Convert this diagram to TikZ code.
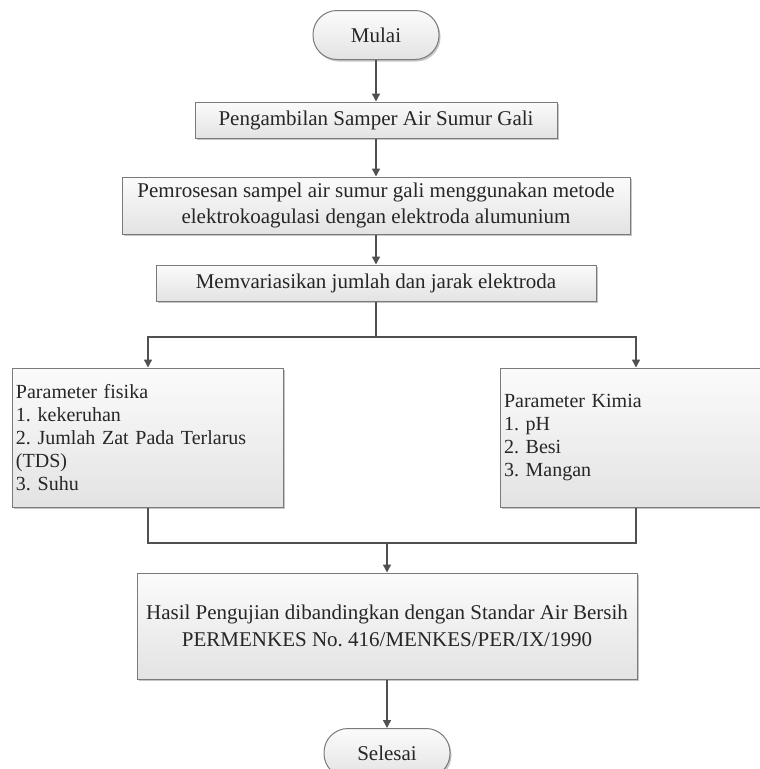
\documentclass[tikz,border=0pt]{standalone}
\usepackage{fontspec}
\setmainfont{Liberation Serif}
\frenchspacing
\usepackage{xcolor}
\usetikzlibrary{shapes.geometric, arrows, arrows.meta, shadows}
\definecolor{linegray}{HTML}{505050}
\definecolor{edgegray}{HTML}{7A7A7A}
\definecolor{textgray}{HTML}{262626}
\tikzstyle{startstop} = [rectangle, rounded corners=24pt, 
minimum width=126pt, 
minimum height=49pt,
text centered, 
draw=edgegray, line width=1pt,
top color=gray!3, bottom color=gray!22,
drop shadow={shadow xshift=1.5pt, shadow yshift=-2pt, fill=gray, opacity=0.45}]
\tikzstyle{process} = [rectangle, 
minimum height=36pt, 
text centered, 
align=center,
draw=edgegray, line width=1pt,
top color=gray!3, bottom color=gray!22,
drop shadow={shadow xshift=1.5pt, shadow yshift=-2pt, fill=gray, opacity=0.45}]
\tikzstyle{param} = [rectangle, 
minimum width=270pt, 
minimum height=139pt, 
text width=264pt, 
align=left,
font=\fontsize{20pt}{22.8pt}\selectfont,
draw=edgegray, line width=1pt,
top color=gray!3, bottom color=gray!22,
drop shadow={shadow xshift=1.5pt, shadow yshift=-2pt, fill=gray, opacity=0.45}]
\tikzstyle{arrow} = [line width=1.4pt, draw=linegray, ->, >={Triangle[length=8pt, width=8pt]}]
\tikzstyle{line} = [line width=1.4pt, draw=linegray]

\begin{document}
\begin{tikzpicture}[node distance=85pt, font=\fontsize{21pt}{26.5pt}\selectfont, text=textgray]
    \useasboundingbox (0,0) rectangle (760pt,-769pt);

    \node (mulai) [startstop] at (376pt,-35pt) {Mulai};
    \node (ambil) [process, minimum width=362pt, below of=mulai] {Pengambilan Samper Air Sumur Gali};
    \node (proses) [process, minimum width=508pt, minimum height=57pt, below of=ambil, yshift=-0.5pt] {Pemrosesan sampel air sumur gali menggunakan metode\\elektrokoagulasi dengan elektroda alumunium};
    \node (variasi) [process, minimum width=440pt, below of=proses, yshift=7.5pt] {Memvariasikan jumlah dan jarak elektroda};
    \coordinate [below of=variasi, node distance=54pt] (cabang);

    \node (fisika) [param, below of=variasi, xshift=-228pt, yshift=-69.5pt] {Parameter fisika\\1. kekeruhan\\2. Jumlah Zat Pada Terlarus\\(TDS)\\3. Suhu};
    \node (kimia) [param, right of=fisika, xshift=403pt] {Parameter Kimia\\1. pH\\2. Besi\\3. Mangan};

    \node (hasil) [process, minimum width=500pt, minimum height=106pt, below of=variasi, xshift=11pt, yshift=-258pt] {Hasil Pengujian dibandingkan dengan Standar Air Bersih\\PERMENKES No. 416/MENKES/PER/IX/1990};
    \coordinate [above of=hasil, node distance=83pt] (gabung);
    \node (selesai) [startstop, below of=hasil, yshift=-42pt] {Selesai};

    \draw [arrow] (mulai) -- (ambil);
    \draw [arrow] (ambil) -- (proses);
    \draw [arrow] (proses) -- (variasi);
    \draw [line] (variasi) -- (cabang);
    \draw [arrow] (cabang) -| (fisika);
    \draw [arrow] (cabang) -| (kimia);
    \draw [line] (fisika) |- (gabung) -| (kimia);
    \draw [arrow] (gabung) -- (hasil);
    \draw [arrow] (hasil) -- (selesai);

\end{tikzpicture}
\end{document}
